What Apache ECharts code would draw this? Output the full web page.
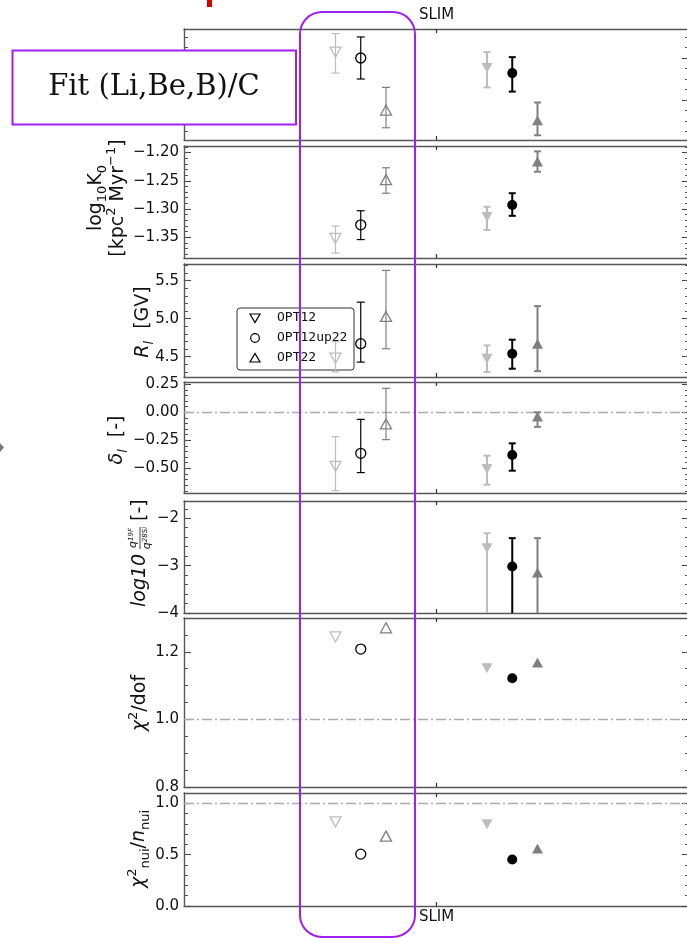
<!DOCTYPE html>
<html>
<head>
<meta charset="utf-8">
<script src="https://cdn.jsdelivr.net/npm/echarts@6/dist/echarts.min.js"></script>
<style>
  html, body { margin: 0; padding: 0; background: #fff; }
  #chart { width: 687px; height: 938px; }
</style>
</head>
<body>
<div id="chart"></div>
<script>
// Propagation-parameter fits for three source-abundance configurations.
const models = ['OPT12', 'OPT12up22', 'OPT22'];
const codeLabels = ['SLIM'];

// Top panel (label hidden under the annotation box)
const p1HollowVal = [0.507, 0.500, 0.438];
const p1HollowLo  = [0.482, 0.475, 0.417];
const p1HollowHi  = [0.529, 0.525, 0.465];
const p1SolidVal  = [0.488, 0.482, 0.426];
const p1SolidLo   = [0.465, 0.460, 0.408];
const p1SolidHi   = [0.507, 0.501, 0.447];
const p1Ticks = [0.45, 0.50];

// log10 K0 [kpc^2 Myr^-1]
const k0HollowVal = [-1.352, -1.328, -1.248];
const k0HollowLo  = [-1.378, -1.354, -1.272];
const k0HollowHi  = [-1.330, -1.303, -1.227];
const k0SolidVal  = [-1.314, -1.293, -1.216];
const k0SolidLo   = [-1.337, -1.312, -1.234];
const k0SolidHi   = [-1.296, -1.272, -1.198];
const k0Ticks = [-1.35, -1.30, -1.25, -1.20];

// R_l [GV]
const rlHollowVal = [4.48, 4.671, 5.03];
const rlHollowLo  = [4.30, 4.429, 4.605];
const rlHollowHi  = [4.70, 5.218, 5.636];
const rlSolidVal  = [4.474, 4.539, 4.671];
const rlSolidLo   = [4.298, 4.342, 4.310];
const rlSolidHi   = [4.649, 4.724, 5.166];
const rlTicks = [4.5, 5.0, 5.5];

// delta_l [-]
const dlHollowVal = [-0.482, -0.366, -0.104];
const dlHollowLo  = [-0.699, -0.538, -0.244];
const dlHollowHi  = [-0.217, -0.063, 0.214];
const dlSolidVal  = [-0.506, -0.381, -0.038];
const dlSolidLo   = [-0.646, -0.521, -0.130];
const dlSolidHi   = [-0.387, -0.277, 0.000];
const dlTicks = [-0.50, -0.25, 0.00, 0.25];

// log10 q(19F)/q(28Si) [-]
const qSolidVal = [-2.632, -3.019, -3.145];
const qSolidLo  = [-5.0, -5.0, -5.0];
const qSolidHi  = [-2.316, -2.420, -2.420];
const qTicks = [-4, -3, -2];

// chi2 / dof
const chiDofHollow = [1.244, 1.208, 1.271];
const chiDofSolid  = [1.151, 1.122, 1.168];
const chiDofTicks = [0.8, 1.0, 1.2];

// chi2_nui / n_nui
const chiNuiHollow = [0.820, 0.505, 0.680];
const chiNuiSolid  = [0.795, 0.453, 0.560];
const chiNuiTicks = [0.0, 0.5, 1.0];

// ---------------------------------------------------------------
const FONT = 'DejaVu Sans';
const SPINE = '#575757';
const modelColors = ['#bdbdbd', '#000000', '#808080'];
const modelSymbols = [
  { symbol: 'triangle', rotate: 180, size: [11, 10] },
  { symbol: 'circle', rotate: 0, size: 10 },
  { symbol: 'triangle', rotate: 0, size: [11, 10] }
];
const codeTickPos = [0.5];
const groupCenter = { hollow: 0.35, solid: 0.65 };
const modelOffset = [-0.05, 0, 0.05];

const panels = [
  { hollow: [p1HollowVal, p1HollowLo, p1HollowHi], solid: [p1SolidVal, p1SolidLo, p1SolidHi], ticks: p1Ticks,
    min: 0.4024, max: 0.5345, minor: 0.0125, dec: 2, ref: null, top: 29, height: 111 },
  { hollow: [k0HollowVal, k0HollowLo, k0HollowHi], solid: [k0SolidVal, k0SolidLo, k0SolidHi], ticks: k0Ticks,
    min: -1.3866, max: -1.1885, minor: 0.01, dec: 2, ref: null, top: 146, height: 112 },
  { hollow: [rlHollowVal, rlHollowLo, rlHollowHi], solid: [rlSolidVal, rlSolidLo, rlSolidHi], ticks: rlTicks,
    min: 4.233, max: 5.72, minor: 0.1, dec: 1, ref: null, top: 264, height: 113 },
  { hollow: [dlHollowVal, dlHollowLo, dlHollowHi], solid: [dlSolidVal, dlSolidLo, dlSolidHi], ticks: dlTicks,
    min: -0.72, max: 0.27, minor: 0.05, dec: 2, ref: 0, top: 382, height: 111 },
  { hollow: null, solid: [qSolidVal, qSolidLo, qSolidHi], ticks: qTicks,
    min: -4, max: -1.636, minor: 0.2, dec: 0, ref: null, top: 501, height: 112 },
  { hollow: [chiDofHollow], solid: [chiDofSolid], ticks: chiDofTicks,
    min: 0.8, max: 1.3, minor: 0.05, dec: 1, ref: 1.0, top: 618, height: 169 },
  { hollow: [chiNuiHollow], solid: [chiNuiSolid], ticks: chiNuiTicks,
    min: 0.0, max: 1.10, minor: 0.1, dec: 1, ref: 1.0, top: 793, height: 113 }
];

function minorValues(p) {
  const out = [];
  const k0 = Math.ceil(p.min / p.minor - 1e-9);
  for (let k = k0; k * p.minor <= p.max + 1e-9; k++) out.push(+(k * p.minor).toFixed(6));
  return out;
}

function fmt(dec) {
  return v => v.toFixed(dec).replace('-', '\u2212');
}

function errorBarRenderer(width, capHalf) {
  return function (params, api) {
    const x = api.value(0);
    const a = api.coord([x, api.value(3)]);
    const b = api.coord([x, api.value(2)]);
    const style = { stroke: api.visual('color'), lineWidth: width, fill: null };
    return {
      type: 'group',
      children: [
        { type: 'line', shape: { x1: a[0], y1: a[1], x2: b[0], y2: b[1] }, style },
        { type: 'line', shape: { x1: a[0] - capHalf, y1: a[1], x2: a[0] + capHalf, y2: a[1] }, style },
        { type: 'line', shape: { x1: b[0] - capHalf, y1: b[1], x2: b[0] + capHalf, y2: b[1] }, style }
      ]
    };
  };
}

const grids = [], xAxes = [], yAxes = [], series = [];
const last = panels.length - 1;

panels.forEach((p, i) => {
  grids.push({ left: 184, top: p.top, width: 505, height: p.height, containLabel: false, outerBoundsMode: 'none' });

  const xBase = {
    gridIndex: i, type: 'value', min: 0, max: 1,
    splitLine: { show: false },
    axisLine: { show: true, onZero: false, lineStyle: { color: SPINE, width: 1.4 } },
    axisTick: { show: true, inside: true, length: 4, customValues: codeTickPos, lineStyle: { color: '#333', width: 1.2 } }
  };
  const xLabel = (show, margin) => ({
    show, customValues: codeTickPos, margin,
    formatter: v => codeLabels[codeTickPos.indexOf(v)] || '',
    fontFamily: FONT, fontSize: 15, color: '#111'
  });
  xAxes.push(Object.assign({}, xBase, { position: 'bottom', axisLabel: xLabel(i === last, 4) }));
  xAxes.push(Object.assign({}, xBase, { position: 'top', axisLabel: xLabel(i === 0, 6) }));

  const minors = minorValues(p);
  const yBase = { gridIndex: i, type: 'value', min: p.min, max: p.max, splitLine: { show: false } };
  ['left', 'right'].forEach(side => {
    yAxes.push(Object.assign({}, yBase, {
      position: side,
      axisLine: { show: true, onZero: false, lineStyle: { color: SPINE, width: 1.4 } },
      axisTick: { show: true, inside: true, length: 7, customValues: p.ticks, lineStyle: { color: '#444', width: 1.1 } },
      axisLabel: side === 'left'
        ? { show: true, customValues: p.ticks, formatter: fmt(p.dec), margin: 5, fontFamily: FONT, fontSize: 15, color: '#111' }
        : { show: false }
    }));
    yAxes.push(Object.assign({}, yBase, {
      position: side,
      axisLine: { show: false, onZero: false },
      axisTick: { show: true, inside: true, length: 4, customValues: minors, lineStyle: { color: '#555', width: 1 } },
      axisLabel: { show: false }
    }));
  });

  const xi = 2 * i, yi = 4 * i;
  let first = true;
  ['hollow', 'solid'].forEach(g => {
    const set = p[g];
    if (!set) return;
    const [vals, los, his] = set;
    models.forEach((m, mi) => {
      const x = groupCenter[g] + modelOffset[mi];
      const color = modelColors[mi];
      if (los) {
        series.push({
          type: 'custom', name: m, xAxisIndex: xi, yAxisIndex: yi, clip: true, silent: true, z: 2,
          itemStyle: { color, opacity: 1 },
          renderItem: g === 'solid' ? errorBarRenderer(2, 3.5) : errorBarRenderer(1.2, 4),
          encode: { x: 0, y: [1, 2, 3] },
          data: [[x, vals[mi], los[mi], his[mi]]]
        });
      }
      const sym = modelSymbols[mi];
      const s = {
        type: 'scatter', name: m, xAxisIndex: xi, yAxisIndex: yi, silent: true, z: 3,
        symbol: sym.symbol, symbolRotate: sym.rotate, symbolSize: sym.size,
        itemStyle: g === 'solid'
          ? { color, borderWidth: 0, opacity: 1 }
          : { color: 'rgba(0,0,0,0)', borderColor: color, borderWidth: 1.3, opacity: 1 },
        data: [[x, vals[mi]]]
      };
      if (first && p.ref !== null) {
        s.markLine = {
          silent: true, symbol: 'none', label: { show: false }, z: 1,
          lineStyle: { color: '#aaaaaa', width: 1.3, type: [10, 3, 2, 3], opacity: 1 },
          data: [{ yAxis: p.ref }]
        };
      }
      first = false;
      series.push(s);
    });
  });
});

// axis titles, drawn rotated
const rich = {
  r: { fontFamily: FONT, fontSize: 19, fill: '#111', lineHeight: 26, verticalAlign: 'middle' },
  i: { fontFamily: FONT, fontSize: 19, fontStyle: 'italic', fill: '#111', lineHeight: 26, verticalAlign: 'middle' },
  s: { fontFamily: FONT, fontSize: 13, fill: '#111', verticalAlign: 'bottom' },
  si: { fontFamily: FONT, fontSize: 13, fontStyle: 'italic', fill: '#111', verticalAlign: 'bottom' },
  p: { fontFamily: FONT, fontSize: 13, fill: '#111', verticalAlign: 'top' }
};
function vText(x, y, text) {
  return {
    type: 'text', x, y, rotation: Math.PI / 2, z: 20,
    style: { text, rich, fontFamily: FONT, fontSize: 19, fill: '#111', align: 'center', verticalAlign: 'middle' }
  };
}

const legendRows = [318, 338, 358];
const legendMarkers = [
  { type: 'polygon', shape: { points: [[250, legendRows[0] - 4], [260, legendRows[0] - 4], [255, legendRows[0] + 4.5]] } },
  { type: 'circle', shape: { cx: 255, cy: legendRows[1], r: 4.3 } },
  { type: 'polygon', shape: { points: [[250, legendRows[2] + 4], [260, legendRows[2] + 4], [255, legendRows[2] - 4.5]] } }
];

const graphic = [
  // axis titles
  vText(96, 198, '{r|log}{s|10}{r|K}{s|0}'),
  vText(118, 198, '{r|[kpc}{p|2}{r| Myr}{p|\u22121}{r|]}'),
  vText(143, 322, '{i|R}{si|l}{r|  [GV]}'),
  vText(117, 440, '{i|\u03b4}{si|l}{r|  [-]}'),
  {
    type: 'group', x: 140, y: 557, rotation: Math.PI / 2, z: 20,
    children: [
      { type: 'text', x: -50, y: 0, style: { text: 'log10', fontFamily: FONT, fontSize: 19, fontStyle: 'italic', fill: '#111', align: 'left', verticalAlign: 'middle' } },
      { type: 'text', x: 19, y: -7, style: { text: '{q|q}{t|19F}', rich: { q: { fontFamily: FONT, fontSize: 11, fontStyle: 'italic', fill: '#111' }, t: { fontFamily: FONT, fontSize: 7, fontStyle: 'italic', fill: '#111', verticalAlign: 'top' } }, align: 'center', verticalAlign: 'middle' } },
      { type: 'line', shape: { x1: 8, y1: 0, x2: 30, y2: 0 }, style: { stroke: '#111', lineWidth: 0.8 } },
      { type: 'text', x: 19, y: 7, style: { text: '{q|q}{t|28Si}', rich: { q: { fontFamily: FONT, fontSize: 11, fontStyle: 'italic', fill: '#111' }, t: { fontFamily: FONT, fontSize: 7, fontStyle: 'italic', fill: '#111', verticalAlign: 'top' } }, align: 'center', verticalAlign: 'middle' } },
      { type: 'text', x: 36, y: 0, style: { text: '[-]', fontFamily: FONT, fontSize: 19, fill: '#111', align: 'left', verticalAlign: 'middle' } }
    ]
  },
  vText(140, 703, '{i|\u03c7}{p|2}{r|/dof}'),
  vText(139, 849, '{i|\u03c7}{p|2}{s|nui}{r|/}{i|n}{s|nui}'),

  // legend
  {
    type: 'group', z: 30,
    children: [
      { type: 'rect', shape: { x: 237, y: 308, width: 117, height: 62, r: 3 }, style: { fill: 'rgba(255,255,255,0.82)', stroke: '#333', lineWidth: 1 } }
    ].concat(legendMarkers.map(mk => Object.assign({}, mk, { style: { fill: 'none', stroke: '#000', lineWidth: 1.2 } })))
     .concat(models.map((m, k) => ({
        type: 'text', x: 277, y: legendRows[k],
        style: { text: m, fontFamily: 'DejaVu Sans Mono', fontSize: 13, fill: '#111', align: 'left', verticalAlign: 'middle' }
      })))
  },

  // slide annotations
  { type: 'rect', z: 40, shape: { x: 300, y: 12, width: 115, height: 925, r: 22 }, style: { fill: 'none', stroke: '#a020f0', lineWidth: 2 } },
  { type: 'rect', z: 40, shape: { x: 12.5, y: 50.5, width: 283.5, height: 74 }, style: { fill: '#ffffff', stroke: '#a020f0', lineWidth: 2 } },
  { type: 'text', z: 41, x: 154, y: 87, style: { text: 'Fit (Li,Be,B)/C', fontFamily: 'DejaVu Serif', fontSize: 29, fill: '#111', align: 'center', verticalAlign: 'middle' } },
  { type: 'rect', z: 40, shape: { x: 207, y: 0, width: 5, height: 7 }, style: { fill: '#d40000' } },
  { type: 'polygon', z: 40, shape: { points: [[0, 443], [4, 447.5], [0, 452]] }, style: { fill: '#777' } }
];

const chart = echarts.init(document.getElementById('chart'), null, { renderer: 'canvas' });
chart.setOption({
  animation: false,
  backgroundColor: '#fff',
  grid: grids,
  xAxis: xAxes,
  yAxis: yAxes,
  series,
  graphic
});
</script>
</body>
</html>
